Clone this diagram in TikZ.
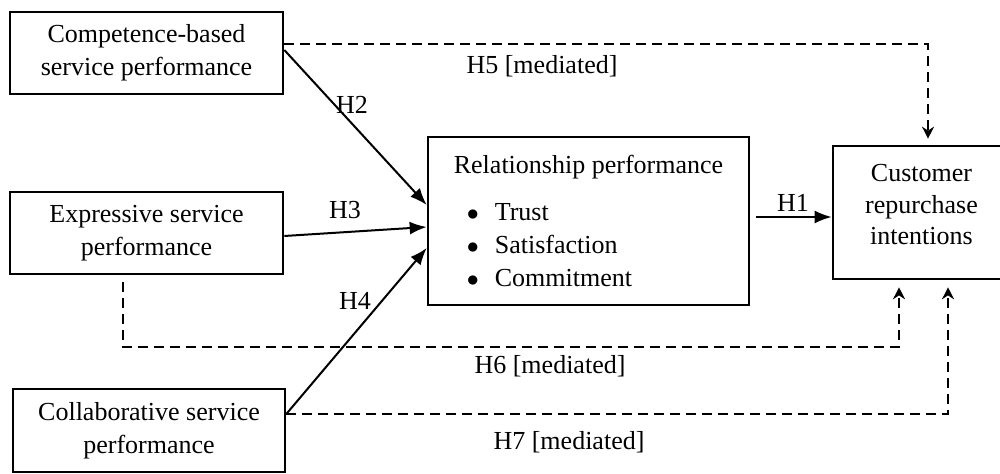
\documentclass[tikz,border=0pt]{standalone}
\usepackage{fontspec}
\setmainfont{Liberation Serif}
\usetikzlibrary{arrows.meta}

\begin{document}
\begin{tikzpicture}[x=0.5pt, y=-0.5pt,
    box/.style={draw, line width=1.3pt, align=center, inner sep=0pt, font=\fontsize{13}{16.5}\selectfont},
    hyp/.style={inner sep=0pt, font=\fontsize{13}{16}\selectfont},
    hypo/.style={line width=1pt, -{Latex[length=8.5pt,width=6.5pt]}},
    medi/.style={line width=1pt, dash pattern=on 5pt off 3pt, -{Stealth[length=6pt,width=6pt]}}]
    \useasboundingbox (0,0) rectangle (1000,474) ;

    \node [box, minimum width=136.5pt, minimum height=41pt] (comp) at (146.5,53) {Competence-based\\service performance} ;
    \node [box, minimum width=136.5pt, minimum height=41pt] (expr) at (146.5,233) {Expressive service\\performance} ;
    \node [box, minimum width=136pt, minimum height=41.5pt] (collab) at (149,430.5) {Collaborative service\\performance} ;
    \node [box, align=left, minimum width=160.5pt, minimum height=84pt] (rel) at (588.5,221)
        {Relationship performance\\[7pt]
         \hspace*{6.5pt}$\bullet$\hspace{8pt}Trust\\
         \hspace*{6.5pt}$\bullet$\hspace{8pt}Satisfaction\\
         \hspace*{6.5pt}$\bullet$\hspace{8pt}Commitment} ;
    \node [box, minimum width=88.5pt, minimum height=66.5pt, font=\fontsize{13}{15.75}\selectfont] (cust) at (921.5,212.5)
        {Customer\\repurchase\\intentions\\[-7.75pt]\mbox{}} ;

    % direct paths
    \draw [hypo] ([yshift=1.5pt]comp.east) -- ([yshift=8pt]rel.west) ;
    \draw [hypo] ([yshift=-1.5pt]expr.east) -- ([yshift=-3pt]rel.west) ;
    \draw [hypo] ([yshift=8.25pt]collab.east) -- ([yshift=-13.5pt]rel.west) ;
    \draw [hypo] ([xshift=3pt,yshift=2pt]rel.east) -- ([yshift=-2.25pt]cust.west) ;

    % mediated paths
    \draw [medi, shorten >=3pt] ([yshift=4.5pt]comp.east) -| ([xshift=3.25pt]cust.north) ;
    \draw [medi, shorten >=3.5pt] ([xshift=-11.75pt,yshift=-3.5pt]expr.south) -- ++(0,65) -| ([xshift=-11.25pt]cust.south) ;
    \draw [medi, shorten >=3.5pt] ([yshift=8.25pt]collab.east) -| ([xshift=13.25pt]cust.south) ;

    \node [hyp] (h1) at (793,203) {H1} ;
    \node [hyp] (h2) at (352,105) {H2} ;
    \node [hyp] (h3) at (345,210) {H3} ;
    \node [hyp] (h4) at (355,301) {H4} ;
    \node [hyp] (h5) at (542,66) {H5 [mediated]} ;
    \node [hyp] (h6) at (550,366) {H6 [mediated]} ;
    \node [hyp] (h7) at (569,442) {H7 [mediated]} ;
\end{tikzpicture}
\end{document}
